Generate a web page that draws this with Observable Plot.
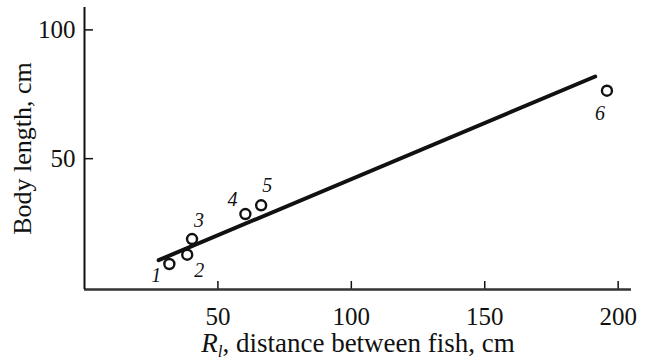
<!DOCTYPE html>
<html><head><meta charset="utf-8">
<script src="https://cdn.jsdelivr.net/npm/d3@7"></script>
<script src="https://cdn.jsdelivr.net/npm/@observablehq/plot@0.6"></script>
<style>body{margin:0;background:#fff;}</style>
</head><body><div id="chart"></div>
<script>
// ---- data ----
const pointIds = ["1", "2", "3", "4", "5", "6"];
const distance = [31.8, 38.5, 40.3, 60.3, 66.2, 195.8];
const bodyLength = [9.1, 12.7, 18.8, 28.5, 31.9, 76.4];
const fitDistance = [27.8, 191.4];
const fitLength = [10.6, 81.9];
const xTicks = [50, 100, 150, 200];
const yTicks = [50, 100];
const xTitle = "Rl, distance between fish, cm";
const yTitle = "Body length, cm";

// ---- styling (label offsets in pixels) ----
const labelOffsets = [[-13, 12], [12, 16], [7, -18], [-13, -14], [6, -20], [-7, 23]];
const serif = "'Liberation Serif', 'Times New Roman', serif";
const ink = "#111";

const points = pointIds.map((id, i) => ({id, x: distance[i], y: bodyLength[i]}));
const fit = fitDistance.map((x, i) => ({x, y: fitLength[i]}));

const chart = Plot.plot({
  width: 645,
  height: 360,
  marginLeft: 84,
  marginRight: 14,
  marginTop: 7,
  marginBottom: 71,
  style: {fontFamily: serif, color: ink, background: "#fff"},
  x: {domain: [0, 205], label: null},
  y: {domain: [-0.8, 108.7], label: null},
  marks: [
    Plot.axisX(xTicks, {tickSize: -8, tickPadding: 26, fontSize: 25, strokeWidth: 1.5, label: null, stroke: ink, fill: ink}),
    Plot.axisY(yTicks, {tickSize: -9, tickPadding: 18, fontSize: 25, strokeWidth: 1.5, label: null, stroke: ink, fill: ink}),
    Plot.ruleY([-0.8], {stroke: "#333", strokeWidth: 2.5}),
    Plot.ruleX([0], {stroke: ink, strokeWidth: 2}),
    Plot.line(fit, {x: "x", y: "y", stroke: ink, strokeWidth: 4}),
    Plot.dot(points, {x: "x", y: "y", r: 5, stroke: ink, strokeWidth: 2.4, fill: "#fff"}),
    ...points.map((p, i) => Plot.text([p], {
      x: "x", y: "y", text: "id",
      dx: labelOffsets[i][0], dy: labelOffsets[i][1],
      fontSize: 20, fontStyle: "italic", fill: ink
    })),
    Plot.text([yTitle], {frameAnchor: "left", dx: -62, rotate: -90, text: d => d, fontSize: 26, fill: ink, textAnchor: "middle", lineAnchor: "middle"}),
    Plot.text([xTitle], {frameAnchor: "bottom", dy: 54, text: d => d, fontSize: 27, fill: ink, textAnchor: "middle", lineAnchor: "middle"})
  ]
});

document.getElementById("chart").appendChild(chart);

// Format the x-axis title: italic R with italic subscript l
for (const t of chart.querySelectorAll("text")) {
  if (t.textContent === xTitle) {
    t.textContent = "";
    const ns = "http://www.w3.org/2000/svg";
    const r = document.createElementNS(ns, "tspan");
    r.setAttribute("font-style", "italic");
    r.textContent = xTitle.slice(0, 1);
    const l = document.createElementNS(ns, "tspan");
    l.setAttribute("font-style", "italic");
    l.setAttribute("font-size", "17");
    l.setAttribute("dy", "5");
    l.textContent = xTitle.slice(1, 2);
    const rest = document.createElementNS(ns, "tspan");
    rest.setAttribute("dy", "-5");
    rest.textContent = xTitle.slice(2);
    t.append(r, l, rest);
  }
}
</script>
</body></html>
